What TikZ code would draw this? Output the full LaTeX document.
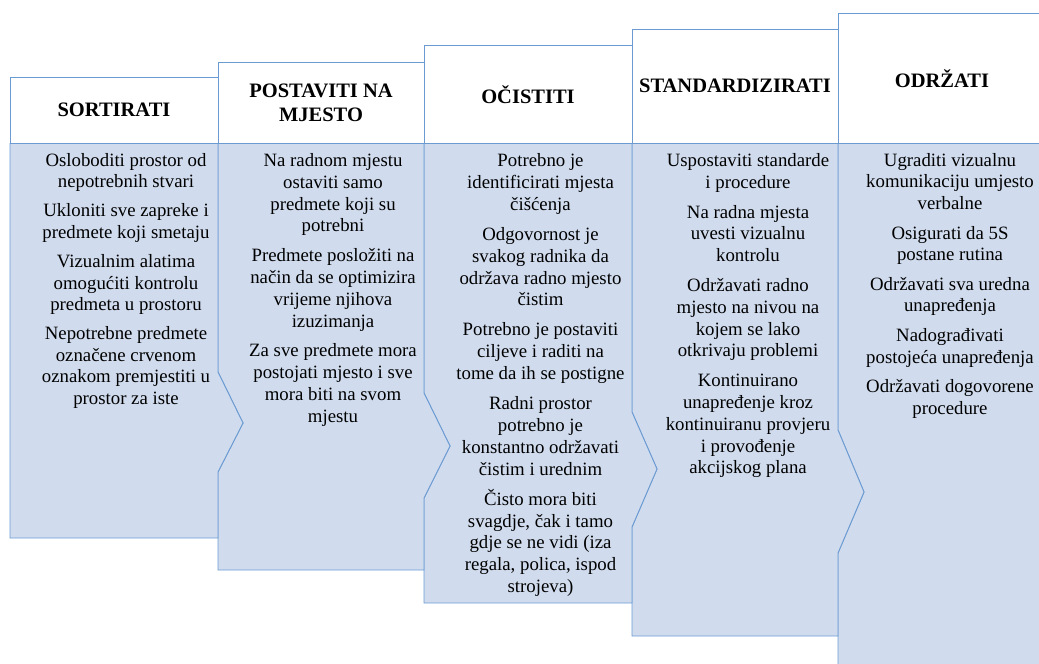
\documentclass[tikz,border=0pt]{standalone}
\usepackage{fontspec}
\setmainfont{Liberation Serif}
\definecolor{bodyfill}{RGB}{208,220,238}
\definecolor{edgeblue}{RGB}{108,155,210}
\begin{document}
\begin{tikzpicture}[x=1pt,y=-1pt,
  bodyshape/.style={fill=bodyfill,draw=edgeblue,line width=0.9pt,line join=miter},
  headbox/.style={fill=white,draw=edgeblue,line width=0.9pt,inner sep=0pt,
    font=\fontsize{20.5}{23.5}\selectfont\bfseries,align=center},
  bodytxt/.style={font=\fontsize{18.8}{#1}\selectfont,align=center,anchor=north,inner sep=0pt},
  bodytxt/.default=21.7]

\useasboundingbox (0,0) rectangle (1039,664);
\clip (0,0) rectangle (1039,664);

% bodies (drawn from right to left so each chevron overlays the next column)
\path[bodyshape] (838,143.5) -- (1050,143.5) -- (1050,700) -- (838,700) -- (838,553) -- (864,492) -- (838,430) -- cycle;
\path[bodyshape] (632,143.5) -- (838,143.5) -- (838,430) -- (864,492) -- (838,553) -- (838,636) -- (632,636) -- (632,527) -- (657,469) -- (632,412) -- cycle;
\path[bodyshape] (424,143.5) -- (632,143.5) -- (632,412) -- (657,469) -- (632,527) -- (632,603) -- (424,603) -- (424,498) -- (450,446) -- (424,393) -- cycle;
\path[bodyshape] (218,143.5) -- (424,143.5) -- (424,393) -- (450,446) -- (424,498) -- (424,570) -- (218,570) -- (218,472) -- (243,423) -- (218,372) -- cycle;
\path[bodyshape] (10,143.5) -- (218,143.5) -- (218,372) -- (243,423) -- (218,472) -- (218,538) -- (10,538) -- cycle;

% headers
\node[headbox,minimum width=208,minimum height=66.5] (h1) at (114,110.25) {SORTIRATI};
\node[headbox,minimum width=206,minimum height=81.5] (h2) at (321,102.75) {POSTAVITI NA\\MJESTO};
\node[headbox,minimum width=208,minimum height=98.5] (h3) at (528,94.25) {OČISTITI};
\node[headbox,minimum width=206,minimum height=114.5] (h4) at (735,86.25) {STANDARDIZIRATI};
\node[headbox,minimum width=208,minimum height=130.5] (h5) at (942,78.25) {ODRŽATI};

% body texts
\node[bodytxt=21.4] (t1) at (126,151) {\strut Osloboditi prostor od\\nepotrebnih stvari\\[8pt]
Ukloniti sve zapreke i\\predmete koji smetaju\\[8pt]
Vizualnim alatima\\omogućiti kontrolu\\predmeta u prostoru\\[8pt]
Nepotrebne predmete\\označene crvenom\\oznakom premjestiti u\\prostor za iste};

\node[bodytxt=21.8] (t2) at (333,151) {\strut Na radnom mjestu\\ostaviti samo\\predmete koji su\\potrebni\\[8pt]
Predmete posložiti na\\način da se optimizira\\vrijeme njihova\\izuzimanja\\[8pt]
Za sve predmete mora\\postojati mjesto i sve\\mora biti na svom\\mjestu};

\node[bodytxt=21.9] (t3) at (540.5,151) {\strut Potrebno je\\identificirati mjesta\\čišćenja\\[8pt]
Odgovornost je\\svakog radnika da\\održava radno mjesto\\čistim\\[8pt]
Potrebno je postaviti\\ciljeve i raditi na\\tome da ih se postigne\\[8pt]
Radni prostor\\potrebno je\\konstantno održavati\\čistim i urednim\\[8pt]
Čisto mora biti\\svagdje, čak i tamo\\gdje se ne vidi (iza\\regala, polica, ispod\\strojeva)};

\node[bodytxt=21.8] (t4) at (748,151) {\strut Uspostaviti standarde\\i procedure\\[8pt]
Na radna mjesta\\uvesti vizualnu\\kontrolu\\[8pt]
Održavati radno\\mjesto na nivou na\\kojem se lako\\otkrivaju problemi\\[8pt]
Kontinuirano\\unapređenje kroz\\kontinuiranu provjeru\\i provođenje\\akcijskog plana};

\node[bodytxt=21.6] (t5) at (950,151) {\strut Ugraditi vizualnu\\komunikaciju umjesto\\verbalne\\[8pt]
Osigurati da 5S\\postane rutina\\[8pt]
Održavati sva uredna\\unapređenja\\[8pt]
Nadograđivati\\postojeća unapređenja\\[8pt]
Održavati dogovorene\\procedure};
\end{tikzpicture}
\end{document}
